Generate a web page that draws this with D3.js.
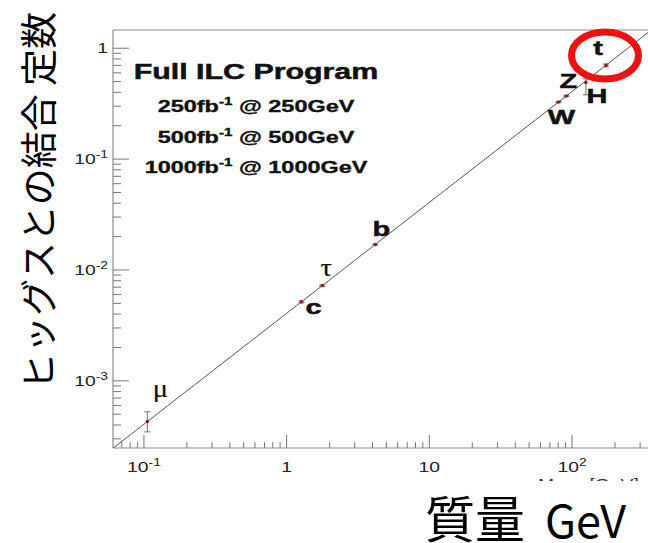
<!DOCTYPE html>
<html>
<head>
<meta charset="utf-8">
<script src="https://cdn.jsdelivr.net/npm/d3@7"></script>
<style>
  body { margin: 0; background: #fff; }
  svg { display: block; }
</style>
</head>
<body>
<div id="chart"></div>
<script>
// particles and their higgs couplings (mass / v)
const particles = ["μ", "c", "τ", "b", "W", "Z", "H", "t"];
const masses = [0.1057, 1.27, 1.777, 4.18, 80.4, 91.19, 125, 173];
const couplings = [4.3e-4, 5.16e-3, 7.22e-3, 1.70e-2, 0.327, 0.371, 0.49, 0.70];
const errLow = [0.83e-4, 0.1e-3, 0.1e-3, 0.2e-3, 0.003, 0.003, 0.11, 0.02];
const errHigh = [0.96e-4, 0.1e-3, 0.1e-3, 0.2e-3, 0.003, 0.003, 0.04, 0.02];
const vev = 246;

const xTickValues = [0.1, 1, 10, 100];
const xTickLabels = [["10", "-1"], ["1", ""], ["10", ""], ["10", "2"]];
const yTickValues = [1, 0.1, 0.01, 0.001];
const yTickLabels = [["1", ""], ["10", "-1"], ["10", "-2"], ["10", "-3"]];

const legendLines = ["250", "500", "1000"];

// label placement relative to each point (pixels)
const labelDx = [13, 12, 4, 6, 3, 2, 11, -8];
const labelDy = [-24, 12, -10, -8, 22, -8, 20, -10];
const boldLabel = [false, true, false, true, true, true, true, true];

const width = 648;
const height = 543;
const stretch = 1.38; // the slide picture is widened

const svg = d3.select("#chart")
  .append("svg")
  .attr("width", width)
  .attr("height", height);

svg.append("rect").attr("width", width).attr("height", height).attr("fill", "#fff");

const plotLeft = 113, plotTop = 30, plotBottom = 448;

const x = d3.scaleLog().domain([0.0607, 400]).range([plotLeft, plotLeft + Math.log10(400 / 0.0607) * 142.7]);
const y = d3.scaleLog().domain([2.48e-4, 1.46]).range([plotBottom, plotTop]);

const frame = svg.append("g").attr("stroke", "#8a8a8a").attr("stroke-width", 1.2);
frame.append("line").attr("x1", plotLeft).attr("x2", width).attr("y1", plotTop).attr("y2", plotTop);
frame.append("line").attr("x1", plotLeft).attr("x2", plotLeft).attr("y1", plotTop).attr("y2", plotBottom);
frame.append("line").attr("x1", plotLeft).attr("x2", width).attr("y1", plotBottom).attr("y2", plotBottom);

// log ticks
function logTicks(lo, hi) {
  const out = [];
  for (let e = -5; e <= 3; e++) {
    for (let k = 1; k <= 9; k++) {
      const v = k * Math.pow(10, e);
      if (v >= lo && v <= hi) out.push({ v, major: k === 1 });
    }
  }
  return out;
}

svg.append("g")
  .selectAll("line")
  .data(logTicks(0.0607, 400))
  .enter()
  .append("line")
  .attr("x1", (d) => x(d.v)).attr("x2", (d) => x(d.v))
  .attr("y1", plotBottom).attr("y2", (d) => plotBottom - (d.major ? 13 : 6))
  .attr("stroke", "#777").attr("stroke-width", 1);

svg.append("g")
  .selectAll("line")
  .data(logTicks(2.48e-4, 1.46))
  .enter()
  .append("line")
  .attr("y1", (d) => y(d.v)).attr("y2", (d) => y(d.v))
  .attr("x1", plotLeft).attr("x2", (d) => plotLeft + (d.major ? 16 : 8))
  .attr("stroke", "#777").attr("stroke-width", 1);

// tick labels
function tickText(g, base, sup, size) {
  const t = g.append("text")
    .attr("font-family", "Liberation Sans, Arial, sans-serif")
    .attr("font-size", size)
    .attr("fill", "#222");
  t.append("tspan").text(base);
  if (sup) t.append("tspan").attr("font-size", size * 0.72).attr("dy", -size * 0.42).text(sup);
  return t;
}

xTickValues.forEach((v, i) => {
  const g = svg.append("g")
    .attr("transform", `translate(${x(v)},472) scale(${stretch},1)`);
  tickText(g, xTickLabels[i][0], xTickLabels[i][1], 14).attr("text-anchor", "middle");
});

yTickValues.forEach((v, i) => {
  const g = svg.append("g")
    .attr("transform", `translate(108,${y(v) + 5}) scale(${stretch},1)`);
  tickText(g, yTickLabels[i][0], yTickLabels[i][1], 14).attr("text-anchor", "end");
});

// leftover of the original axis title, mostly hidden
svg.append("clipPath").attr("id", "cut")
  .append("rect").attr("x", 0).attr("y", 0).attr("width", width).attr("height", 481);
svg.append("g")
  .attr("clip-path", "url(#cut)")
  .append("text")
  .attr("transform", `translate(538,489) scale(${stretch},1)`)
  .attr("font-family", "Liberation Sans, Arial, sans-serif")
  .attr("font-size", 14)
  .attr("fill", "#333")
  .text("Mass [GeV]");

// y = m / v line
const lineMasses = d3.range(0, 41).map((i) => 0.0607 * Math.pow(400 / 0.0607, i / 40));
svg.append("defs").append("clipPath").attr("id", "plot")
  .append("rect").attr("x", plotLeft).attr("y", plotTop).attr("width", width - plotLeft).attr("height", plotBottom - plotTop);
svg.append("path")
  .datum(lineMasses)
  .attr("clip-path", "url(#plot)")
  .attr("d", d3.line().x((m) => x(m)).y((m) => y(m / vev)))
  .attr("fill", "none")
  .attr("stroke", "#555")
  .attr("stroke-width", 1);

// error bars and points
const pts = particles.map((p, i) => ({
  p, m: masses[i], c: couplings[i], lo: couplings[i] - errLow[i], hi: couplings[i] + errHigh[i], i
}));

const eb = svg.append("g").attr("stroke", "#888").attr("stroke-width", 1.2);
pts.forEach((d) => {
  eb.append("line").attr("x1", x(d.m)).attr("x2", x(d.m)).attr("y1", y(d.lo)).attr("y2", y(d.hi));
  eb.append("line").attr("x1", x(d.m) - 3).attr("x2", x(d.m) + 3).attr("y1", y(d.lo)).attr("y2", y(d.lo));
  eb.append("line").attr("x1", x(d.m) - 3).attr("x2", x(d.m) + 3).attr("y1", y(d.hi)).attr("y2", y(d.hi));
});

svg.append("g")
  .selectAll("circle")
  .data(pts)
  .enter()
  .append("circle")
  .attr("cx", (d) => x(d.m))
  .attr("cy", (d) => y(d.c))
  .attr("r", 1.8)
  .attr("fill", "#8b1c1c");

// particle labels
pts.forEach((d) => {
  const bold = boldLabel[d.i];
  svg.append("text")
    .attr("transform", `translate(${x(d.m) + labelDx[d.i]},${y(d.c) + labelDy[d.i]}) scale(${bold ? stretch : 1.1},1)`)
    .attr("text-anchor", "middle")
    .attr("font-family", bold ? "Liberation Sans, Arial, sans-serif" : "Liberation Serif, serif")
    .attr("font-weight", bold ? "bold" : "normal")
    .attr("font-size", bold ? 21 : 26)
    .attr("fill", "#111")
    .attr("stroke", "#111")
    .attr("stroke-width", bold ? 0.5 : 0.2)
    .text(d.p);
});

// legend block
svg.append("text")
  .attr("transform", `translate(256,79) scale(${stretch},1)`)
  .attr("text-anchor", "middle")
  .attr("font-family", "Liberation Sans, Arial, sans-serif")
  .attr("font-weight", "bold")
  .attr("font-size", 22)
  .attr("fill", "#111")
  .attr("stroke", "#111")
  .attr("stroke-width", 0.5)
  .text("Full ILC Program");

legendLines.forEach((e, i) => {
  const t = svg.append("text")
    .attr("transform", `translate(256,${112 + i * 30.5}) scale(${stretch},1)`)
    .attr("text-anchor", "middle")
    .attr("font-family", "Liberation Sans, Arial, sans-serif")
    .attr("font-weight", "bold")
    .attr("font-size", 17)
    .attr("fill", "#111")
    .attr("stroke", "#111")
    .attr("stroke-width", 0.35);
  t.append("tspan").text(e + "fb");
  t.append("tspan").attr("font-size", 11).attr("dy", -7).text("-1");
  t.append("tspan").attr("dy", 7).text(" @ " + e + "GeV");
});

// red circle around the top quark
const tp = pts[7];
svg.append("ellipse")
  .attr("cx", x(tp.m) - 1)
  .attr("cy", y(tp.c) - 10)
  .attr("rx", 33.5)
  .attr("ry", 23.5)
  .attr("fill", "none")
  .attr("stroke", "#ee1111")
  .attr("stroke-width", 7);

// japanese titles
svg.append("text")
  .attr("transform", "translate(53,201) rotate(-90)")
  .attr("text-anchor", "middle")
  .attr("font-family", "Noto Sans CJK JP")
  .attr("font-size", 37)
  .attr("fill", "#000")
  .text("ヒッグスとの結合 定数");

const xt = svg.append("text")
  .attr("font-family", "Noto Sans CJK JP")
  .attr("fill", "#000");
xt.append("tspan").attr("x", 425).attr("y", 538).attr("font-size", 50).text("質量");
xt.append("tspan").attr("x", 545).attr("y", 538).attr("font-size", 45).text("GeV");
</script>
</body>
</html>
